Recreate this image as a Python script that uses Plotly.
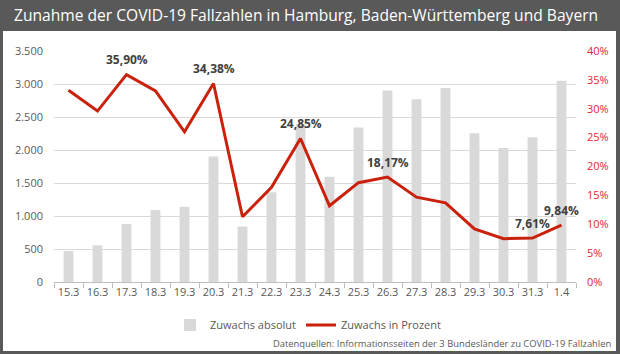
import plotly.graph_objects as go

dates = ["15.3", "16.3", "17.3", "18.3", "19.3", "20.3", "21.3", "22.3", "23.3",
         "24.3", "25.3", "26.3", "27.3", "28.3", "29.3", "30.3", "31.3", "1.4"]
absolut = [470, 555, 880, 1090, 1140, 1900, 840, 1360, 2390,
           1595, 2340, 2900, 2770, 2940, 2255, 2030, 2195, 3050]
prozent = [33.2, 29.6, 35.90, 33.1, 26.0, 34.38, 11.3, 16.4, 24.85,
           13.2, 17.2, 18.17, 14.7, 13.7, 9.2, 7.5, 7.61, 9.84]
labeled = {"17.3": "35,90%", "20.3": "34,38%", "23.3": "24,85%",
           "26.3": "18,17%", "31.3": "7,61%", "1.4": "9,84%"}

left_ticks = [0, 500, 1000, 1500, 2000, 2500, 3000, 3500]
left_text = ["0", "500", "1.000", "1.500", "2.000", "2.500", "3.000", "3.500"]
right_ticks = [0, 5, 10, 15, 20, 25, 30, 35, 40]
right_text = [f"{v}%" for v in right_ticks]

W, H = 620, 354
L, R, T, B = 54, 576, 51, 282
pw, ph = R - L, B - T

def px(x):
    return (x - L) / pw

def py(y):
    return (B - y) / ph

FONT = "Open Sans"
fig = go.Figure()
fig.add_trace(go.Bar(x=dates, y=absolut, name="Zuwachs absolut",
                     marker=dict(color="#d9d9d9", line=dict(width=0)),
                     yaxis="y"))
fig.add_trace(go.Scatter(x=dates, y=prozent, name="Zuwachs in Prozent",
                         mode="lines", line=dict(color="#c9210b", width=3),
                         yaxis="y2"))

for d, t in labeled.items():
    i = dates.index(d)
    fig.add_annotation(x=i, xref="x", y=prozent[i], yref="y2", text=t, showarrow=False,
                       yshift=15, font=dict(family=FONT, size=12, color="#404040",
                                            weight="bold"))

fig.update_layout(
    width=W, height=H,
    margin=dict(l=L, r=W - R, t=T, b=H - B),
    paper_bgcolor="#595959", plot_bgcolor="rgba(0,0,0,0)",
    bargap=0.66,
    showlegend=True,
    legend=dict(orientation="h", x=px(308), xanchor="center", y=py(325),
                yanchor="middle", font=dict(family=FONT, size=11, color="#595959"),
                bgcolor="rgba(0,0,0,0)", itemwidth=30, tracegroupgap=0),
    title=dict(text="Zunahme der COVID-19 Fallzahlen in Hamburg, Baden-Württemberg und Bayern",
               x=14 / W, xanchor="left", xref="container", y=1 - 16 / H,
               yanchor="middle", yref="container",
               font=dict(family=FONT, size=15.6, color="#ffffff")),
    xaxis=dict(type="category", showgrid=False, showline=True, linecolor="#bfbfbf",
               ticks="outside", ticklen=5, tickcolor="#bfbfbf", tickson="boundaries",
               tickangle=0,
               tickfont=dict(family=FONT, size=11, color="#595959"),
               range=[-0.5, len(dates) - 0.5]),
    yaxis=dict(range=[0, 3500], tickvals=left_ticks, ticktext=left_text,
               showgrid=True, gridcolor="#d9d9d9", gridwidth=1, zeroline=False,
               tickfont=dict(family=FONT, size=11, color="#595959"),
               ticklabelstandoff=10),
    yaxis2=dict(range=[0, 40], tickvals=right_ticks, ticktext=right_text,
                overlaying="y", side="right", showgrid=False, zeroline=False,
                tickfont=dict(family=FONT, size=11, color="#e3262f"),
                ticklabelstandoff=10),
    shapes=[dict(type="rect", xref="paper", yref="paper", x0=px(3), x1=px(616),
                 y0=py(31), y1=py(351), fillcolor="#ffffff", line=dict(width=0),
                 layer="below")],
)
fig.add_annotation(xref="paper", yref="paper", x=px(613), y=py(343), xanchor="right",
                   yanchor="middle", showarrow=False,
                   text="Datenquellen: Informationsseiten der 3 Bundesländer zu COVID-19 Fallzahlen",
                   font=dict(family=FONT, size=9.4, color="#595959"))

fig.write_html("out.html")
